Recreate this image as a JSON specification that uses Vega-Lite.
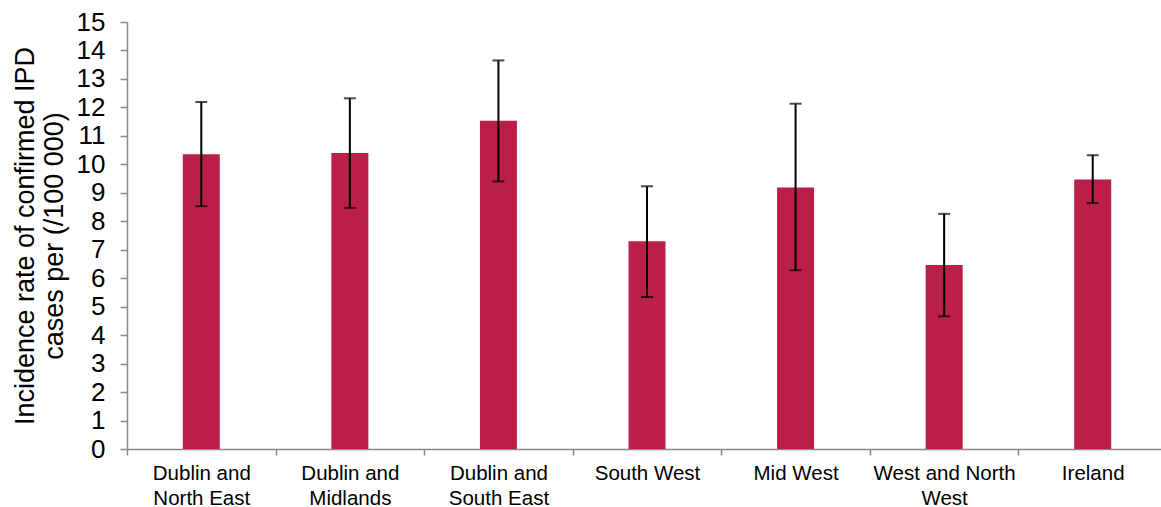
{
  "$schema": "https://vega.github.io/schema/vega-lite/v6.json",
  "width": 1040,
  "height": 427,
  "autosize": "none",
  "padding": {"left": 127, "top": 22, "right": 0, "bottom": 58},
  "background": "white",
  "config": {
    "view": {"stroke": null},
    "font": "Liberation Sans",
    "axis": {
      "domainColor": "#898989",
      "tickColor": "#898989",
      "labelColor": "#000000",
      "titleColor": "#000000",
      "grid": false,
      "domainWidth": 1.5,
      "tickWidth": 1.5
    },
    "axisY": {
      "tickCount": 15,
      "labelOverlap": false,
      "labelBound": false,
      "labelFlush": false,
      "tickSize": 7,
      "labelPadding": 15,
      "labelFontSize": 26,
      "titleFontSize": 27,
      "titleFontWeight": "normal",
      "titleLineHeight": 29,
      "titlePadding": 8
    }
  },
  "data": {
    "values": [
      {"region": "Dublin and North East", "rate": 10.35, "lower": 8.53, "upper": 12.19},
      {"region": "Dublin and Midlands", "rate": 10.4, "lower": 8.47, "upper": 12.32},
      {"region": "Dublin and South East", "rate": 11.53, "lower": 9.4, "upper": 13.65},
      {"region": "South West", "rate": 7.3, "lower": 5.34, "upper": 9.23},
      {"region": "Mid West", "rate": 9.19, "lower": 6.28, "upper": 12.13},
      {"region": "West and North West", "rate": 6.46, "lower": 4.66, "upper": 8.26},
      {"region": "Ireland", "rate": 9.47, "lower": 8.64, "upper": 10.32}
    ]
  },
  "encoding": {
    "x": {
      "field": "region",
      "type": "nominal",
      "sort": null,
      "scale": {"paddingInner": 0, "paddingOuter": 0},
      "axis": {
        "title": null,
        "labelAngle": 0,
        "tickBand": "extent",
        "tickSize": 6,
        "labelFontSize": 20.5,
        "labelLineHeight": 25,
        "labelPadding": 8,
        "labelOverlap": false,
        "labelExpr": "datum.label == 'West and North West' ? ['West and North', 'West'] : indexof(datum.label, ' and ') > 0 ? [substring(datum.label, 0, indexof(datum.label, ' and ') + 4), substring(datum.label, indexof(datum.label, ' and ') + 5)] : datum.label"
      }
    }
  },
  "layer": [
    {
      "mark": {"type": "bar", "width": 37, "color": "#BA2047"},
      "encoding": {
        "y": {
          "field": "rate",
          "type": "quantitative",
          "scale": {"domain": [0, 15], "nice": false},
          "axis": {
            "title": ["Incidence rate of confirmed IPD", "cases per (/100 000)"]
          }
        }
      }
    },
    {
      "mark": {"type": "rule", "color": "black", "strokeWidth": 2},
      "encoding": {
        "y": {"field": "lower", "type": "quantitative"},
        "y2": {"field": "upper"}
      }
    },
    {
      "mark": {"type": "tick", "color": "black", "size": 12, "thickness": 2},
      "encoding": {
        "y": {"field": "lower", "type": "quantitative"}
      }
    },
    {
      "mark": {"type": "tick", "color": "black", "size": 12, "thickness": 2},
      "encoding": {
        "y": {"field": "upper", "type": "quantitative"}
      }
    }
  ]
}
